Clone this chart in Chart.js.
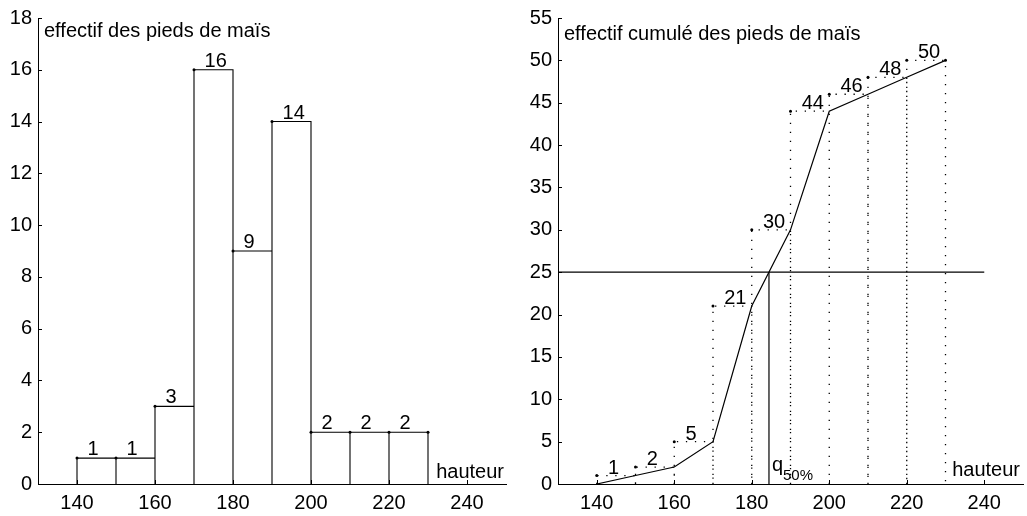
<!DOCTYPE html>
<html>
<head>
<meta charset="utf-8">
<script src="https://cdn.jsdelivr.net/npm/chart.js@4.4.1/dist/chart.umd.min.js"></script>
<style>
  html, body { margin: 0; padding: 0; background: #fff; }
  #wrap { position: relative; width: 1027px; height: 516px; }
  canvas { position: absolute; top: 0; }
  #histo { left: 0; }
  #cumul { left: 513px; }
</style>
</head>
<body>
<div id="wrap">
  <canvas id="histo" width="513" height="516"></canvas>
  <canvas id="cumul" width="514" height="516"></canvas>
</div>
<script>
// class edges (hauteur), counts per class, cumulative counts at each edge
const edges = [140, 150, 160, 170, 180, 190, 200, 210, 220, 230]
const counts = [1, 1, 3, 16, 9, 14, 2, 2, 2]
const cumCounts = [0, 1, 2, 5, 21, 30, 44, 46, 48, 50]
const xTicks = [140, 160, 180, 200, 220, 240]
const xRange = [130, 250]
const medianRank = 25

const FONT = '"Liberation Sans", Arial, Helvetica, sans-serif'
Chart.defaults.font.family = FONT
Chart.defaults.font.size = 20
Chart.defaults.color = '#000'

function xScale() {
  return {
    type: 'linear',
    min: xRange[0],
    max: xRange[1],
    offset: false,
    grid: { display: false, drawTicks: false },
    border: { display: true, color: '#000', width: 1 },
    ticks: { color: '#000', padding: 7, maxRotation: 0, autoSkip: false },
    afterBuildTicks: s => { s.ticks = xTicks.map(v => ({ value: v })) },
    afterFit: s => { s.height = 32 }
  }
}

function yScale(max, step, width) {
  return {
    type: 'linear',
    min: 0,
    max: max,
    grid: { display: false, drawTicks: false },
    border: { display: true, color: '#000', width: 1 },
    ticks: { color: '#000', stepSize: step, padding: 6 },
    afterFit: s => { s.width = width }
  }
}

// short inward tick marks + free text
function decor(drawText) {
  return {
    id: 'decor',
    afterDatasetsDraw(chart) {
      const { ctx, chartArea, scales: { x, y } } = chart
      ctx.save()
      ctx.strokeStyle = '#000'
      ctx.lineWidth = 1
      ctx.beginPath()
      y.ticks.forEach(t => {
        const py = Math.round(y.getPixelForValue(t.value)) + 0.5
        ctx.moveTo(chartArea.left, py)
        ctx.lineTo(chartArea.left + 4, py)
      })
      x.ticks.forEach(t => {
        const px = Math.round(x.getPixelForValue(t.value)) + 0.5
        ctx.moveTo(px, chartArea.bottom)
        ctx.lineTo(px, chartArea.bottom - 4)
      })
      ctx.stroke()
      ctx.fillStyle = '#000'
      ctx.font = '20px ' + FONT
      ctx.textBaseline = 'alphabetic'
      drawText(ctx, chartArea, x, y)
      ctx.restore()
    }
  }
}

// ---------- left: histogram ----------
const barOutline = []
counts.forEach((h, i) => {
  barOutline.push({ x: edges[i], y: 0 }, { x: edges[i], y: h },
                  { x: edges[i + 1], y: h }, { x: edges[i + 1], y: 0 })
})
const barDots = counts.map((h, i) => ({ x: edges[i], y: h }))
barDots.push({ x: edges[edges.length - 1], y: counts[counts.length - 1] })

new Chart(document.getElementById('histo'), {
  type: 'line',
  data: {
    datasets: [
      {
        data: barOutline,
        borderColor: '#000',
        borderWidth: 1.1,
        pointRadius: 0,
        tension: 0
      },
      {
        type: 'scatter',
        data: barDots,
        backgroundColor: '#000',
        borderColor: '#000',
        pointRadius: 1.5,
        borderWidth: 0
      }
    ]
  },
  options: {
    responsive: false,
    animation: false,
    layout: { padding: { top: 17, right: 7, bottom: 0, left: 0 } },
    plugins: { legend: { display: false }, tooltip: { enabled: false } },
    scales: { x: xScale(), y: yScale(18, 2, 38) }
  },
  plugins: [decor((ctx, area, x, y) => {
    ctx.textAlign = 'left'
    counts.forEach((h, i) => {
      ctx.fillText(String(h), x.getPixelForValue(edges[i] + 2.7), y.getPixelForValue(h) - 3)
    })
    ctx.fillText('effectif des pieds de maïs', area.left + 6, 37)
    ctx.textAlign = 'right'
    ctx.fillText('hauteur', area.right - 2, area.bottom - 6)
  })]
})

// ---------- right: cumulative ----------
const i0 = cumCounts.findIndex(c => c >= medianRank)
const q50 = edges[i0 - 1] + (medianRank - cumCounts[i0 - 1]) /
  (cumCounts[i0] - cumCounts[i0 - 1]) * (edges[i0] - edges[i0 - 1])

const cumLine = edges.map((e, i) => ({ x: e, y: cumCounts[i] }))
const dotted = []
const cumDots = []
for (let i = 0; i < edges.length - 1; i++) {
  const a = edges[i], b = edges[i + 1], c = cumCounts[i + 1]
  dotted.push({ x: a, y: 0 }, { x: a, y: c }, { x: b, y: c }, { x: b, y: 0 }, { x: b, y: null })
  cumDots.push({ x: a, y: c })
}
cumDots.push({ x: edges[edges.length - 1], y: cumCounts[cumCounts.length - 1] })

new Chart(document.getElementById('cumul'), {
  type: 'line',
  data: {
    datasets: [
      {
        data: dotted,
        borderColor: '#000',
        borderWidth: 1.3,
        borderDash: [1.3, 7.7],
        pointRadius: 0,
        spanGaps: false,
        tension: 0
      },
      {
        data: cumLine,
        borderColor: '#000',
        borderWidth: 1.2,
        pointRadius: 0,
        tension: 0
      },
      {
        data: [{ x: xRange[0], y: medianRank }, { x: xTicks[xTicks.length - 1], y: medianRank }],
        borderColor: '#000',
        borderWidth: 1.2,
        pointRadius: 0
      },
      {
        data: [{ x: q50, y: 0 }, { x: q50, y: medianRank }],
        borderColor: '#000',
        borderWidth: 1.2,
        pointRadius: 0
      },
      {
        type: 'scatter',
        data: cumDots,
        backgroundColor: '#000',
        borderColor: '#000',
        pointRadius: 1.5,
        borderWidth: 0
      }
    ]
  },
  options: {
    responsive: false,
    animation: false,
    layout: { padding: { top: 17, right: 1, bottom: 0, left: 0 } },
    plugins: { legend: { display: false }, tooltip: { enabled: false } },
    scales: { x: xScale(), y: yScale(55, 5, 45) }
  },
  plugins: [decor((ctx, area, x, y) => {
    ctx.textAlign = 'left'
    for (let i = 0; i < edges.length - 1; i++) {
      const c = cumCounts[i + 1]
      ctx.fillText(String(c), x.getPixelForValue(edges[i] + 2.9), y.getPixelForValue(c) - 2)
    }
    ctx.fillText('effectif cumulé des pieds de maïs', area.left + 6, 40)
    const qx = x.getPixelForValue(q50) + 3
    ctx.fillText('q', qx, area.bottom - 13)
    ctx.font = '15px ' + FONT
    ctx.fillText('50%', qx + 11, area.bottom - 4)
    ctx.font = '20px ' + FONT
    ctx.textAlign = 'right'
    ctx.fillText('hauteur', area.right - 3, area.bottom - 8)
  })]
})
</script>
</body>
</html>
